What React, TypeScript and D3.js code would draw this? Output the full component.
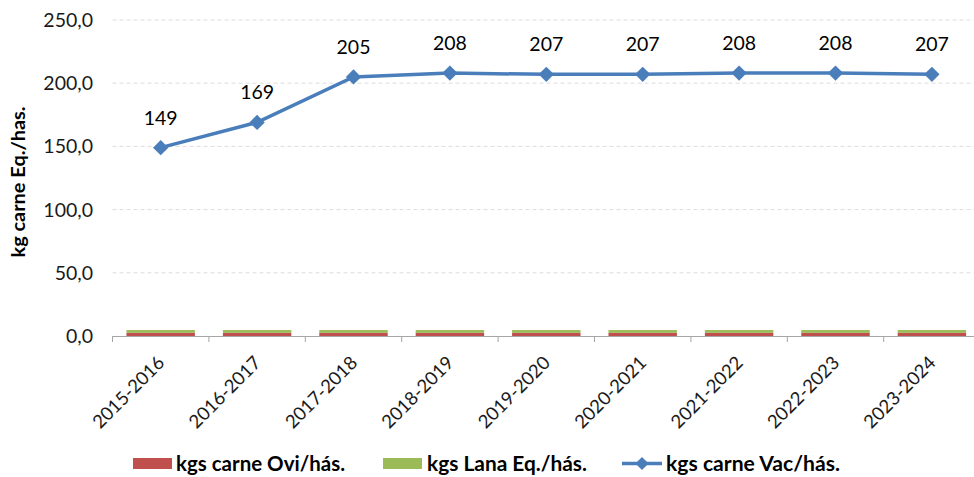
import React from "react";
import * as d3 from "d3";

const categories = ["2015-2016","2016-2017","2017-2018","2018-2019","2019-2020","2020-2021","2021-2022","2022-2023","2023-2024"];
const oviValues = [2.5,2.5,2.5,2.5,2.5,2.5,2.5,2.5,2.5];
const lanaValues = [2.2,2.2,2.2,2.2,2.2,2.2,2.2,2.2,2.2];
const vacValues = [149,169,205,208,207,207,208,208,207];
const yTicks = [0,50,100,150,200,250];
const legendLabels = ["kgs carne Ovi/hás.","kgs Lana Eq./hás.","kgs carne Vac/hás."];

const W = 974, H = 477;
const left = 112.5, step = 96.4;
const top = 20, bottom = 336;

export default function App() {
  const x = d3.scaleBand<string>().domain(categories).range([left, left + step * categories.length]).paddingInner(0.29).paddingOuter(0.145);
  const xc = (c: string) => (x(c) as number) + x.bandwidth() / 2;
  const y = d3.scaleLinear().domain([0, 250]).range([bottom, top]);
  const line = d3.line<number>().x((_, i) => xc(categories[i])).y(d => y(d));
  const font = "Lato, 'Open Sans', sans-serif";
  const diamond = d3.symbol().type(d3.symbolDiamond2).size(150)() as string;
  const ly = 463.5;
  return (
    <svg width={W} height={H} style={{ position: "absolute", left: 0, top: 0 }} fontFamily={font}>
      <rect width={W} height={H} fill="#fff" />
      {yTicks.filter(t => t > 0).map(t => (
        <line key={t} x1={left} x2={W} y1={y(t)} y2={y(t)} stroke="#dcdcdc" strokeDasharray="4,3" strokeWidth={1} />
      ))}
      {yTicks.map(t => (
        <text key={t} x={93} y={y(t)} dy="0.36em" textAnchor="end" fontSize={19.5} fill="#1a1a1a">
          {d3.format(".1f")(t).replace(".", ",")}
        </text>
      ))}
      <text transform={`translate(25,182) rotate(-90)`} textAnchor="middle" fontSize={19} fontWeight="bold" fill="#000" textLength={151} lengthAdjust="spacingAndGlyphs">kg carne Eq./has.</text>
      {categories.map((c, i) => (
        <g key={c}>
          <rect x={x(c)} width={x.bandwidth()} y={y(oviValues[i])} height={y(0) - y(oviValues[i])} fill="#C0504D" />
          <rect x={x(c)} width={x.bandwidth()} y={y(oviValues[i] + lanaValues[i])} height={y(oviValues[i]) - y(oviValues[i] + lanaValues[i])} fill="#9BBB59" />
        </g>
      ))}
      <line x1={left} x2={W} y1={bottom + 0.5} y2={bottom + 0.5} stroke="#a6a6a6" />
      {d3.range(categories.length + 1).map(i => (
        <line key={i} x1={left + step * i} x2={left + step * i} y1={bottom} y2={bottom + 6} stroke="#a6a6a6" />
      ))}
      {categories.map(c => (
        <text key={c} transform={`translate(${xc(c) + 5},${bottom + 28}) rotate(-45)`} textAnchor="end" fontSize={18.5} fill="#1a1a1a">{c}</text>
      ))}
      <path d={line(vacValues) as string} fill="none" stroke="#4A7EBB" strokeWidth={3.5} />
      {vacValues.map((v, i) => (
        <g key={i}>
          <path d={diamond} transform={`translate(${xc(categories[i])},${y(v)})`} fill="#4A7EBB" />
          <text x={xc(categories[i])} y={y(v) - 23} textAnchor="middle" fontSize={19.5} fill="#000">{d3.format(".0f")(v)}</text>
        </g>
      ))}
      <g fontSize={20} fontWeight="bold" fill="#000">
        <rect x={133} y={458} width={39} height={11} fill="#C0504D" />
        <text x={176} y={ly} dy="0.36em" textLength={169} lengthAdjust="spacingAndGlyphs">{legendLabels[0]}</text>
        <rect x={383} y={458} width={39} height={11} fill="#9BBB59" />
        <text x={427} y={ly} dy="0.36em" textLength={160} lengthAdjust="spacingAndGlyphs">{legendLabels[1]}</text>
        <line x1={622} x2={662} y1={ly} y2={ly} stroke="#4A7EBB" strokeWidth={3.5} />
        <path d={d3.symbol().type(d3.symbolDiamond2).size(110)() as string} transform={`translate(642,${ly})`} fill="#4A7EBB" />
        <text x={666} y={ly} dy="0.36em" textLength={174} lengthAdjust="spacingAndGlyphs">{legendLabels[2]}</text>
      </g>
    </svg>
  );
}
